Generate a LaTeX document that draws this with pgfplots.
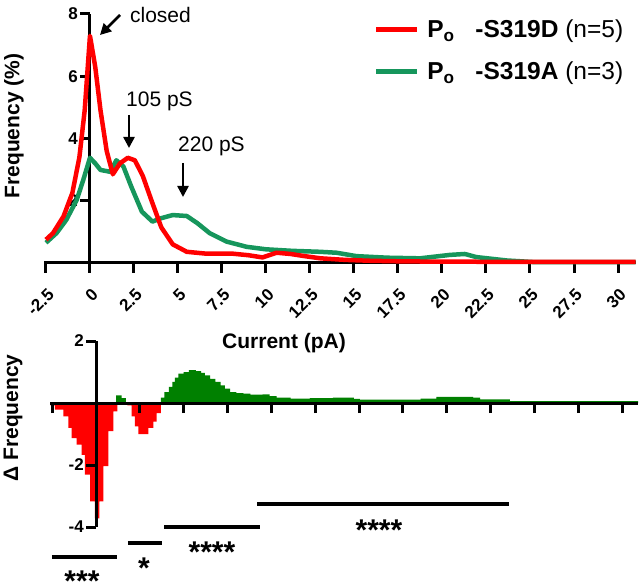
\documentclass[border=0pt]{standalone}
\usepackage{fontspec}
\setmainfont{Liberation Sans}
\usepackage{pgfplots}
\pgfplotsset{compat=1.18}
\usetikzlibrary{arrows.meta}
\definecolor{myred}{RGB}{255,0,0}
\definecolor{mygreen}{RGB}{22,150,92}
\definecolor{bargreen}{RGB}{0,128,0}
\begin{document}
\begin{tikzpicture}
\path[use as bounding box] (0pt,0pt) rectangle (641pt,582pt);
% ---------------- top panel ----------------
\begin{axis}[
  at={(44.2pt,319pt)}, anchor=south west,
  scale only axis, width=591.4pt, height=249pt,
  xmin=-2.6, xmax=31, ymin=0, ymax=8,
  clip=false,
  axis x line=bottom, axis y line=middle,
  axis line style={-, line width=3pt},
  tick align=outside, major tick length=10pt,
  tick style={line width=3pt, black},
  xtick={-2.5,0,2.5,5,7.5,10,12.5,15,17.5,20,22.5,25,27.5,30},
  xticklabels={-2.5,0,2.5,5,7.5,10,12.5,15,17.5,20,22.5,25,27.5,30},
  ytick={2,4,6,8}, yticklabels={2,4,6,8},
  tick label style={font=\fontsize{17}{20}\selectfont\bfseries},
  xticklabel style={inner sep=0pt, xshift=5pt, yshift=-19pt, rotate=45, anchor=east},
  yticklabel style={inner sep=2pt},
  every axis x label/.style={at={(axis description cs:0.4055,-0.321)}, anchor=center},
  every axis y label/.style={at={(axis description cs:-0.051,0.55)}, rotate=90, anchor=center},
  xlabel={Current (pA)}, ylabel={Frequency (\%)},
  label style={font=\fontsize{21}{25}\selectfont\bfseries},
  reverse legend,
  legend cell align=left,
  legend image code/.code={\draw[#1, line width=4.5pt] (0pt,0pt) -- (41pt,0pt);},
  legend style={at={(axis description cs:0.557,0.99)}, anchor=north west, draw=none, fill=none,
    font=\fontsize{24.5}{28}\selectfont, row sep=17pt, inner sep=0pt,
    nodes={inner sep=3pt}},
]
\addplot[color=mygreen, line width=4.5pt, line join=round] coordinates {
(-2.5,0.65)(-1.9,0.96)(-1.35,1.38)(-0.75,2.03)(-0.38,2.67)(0,3.38)(0.3,3.2)(0.6,2.99)(1.15,2.93)(1.5,3.3)(1.9,3.1)(2.35,2.45)(2.95,1.65)(3.55,1.33)(4.05,1.44)(4.7,1.54)(5.5,1.51)(6.1,1.28)(6.8,0.96)(7.75,0.69)(8.9,0.52)(10.0,0.44)(11.5,0.39)(13.05,0.36)(14.0,0.33)(15.15,0.22)(16.9,0.17)(18.75,0.15)(20.45,0.26)(21.3,0.29)(21.95,0.19)(23.7,0.08)(25.2,0.03)(31,0.03)};
\addlegendentry{\hspace{5pt}\textbf{P\textsubscript{o}\hspace{0.85em}-S319A} (n=3)}
\addplot[color=myred, line width=4.5pt, line join=round] coordinates {
(-2.5,0.75)(-2.1,0.96)(-1.5,1.5)(-1.0,2.25)(-0.6,3.4)(-0.3,4.9)(0,7.3)(0.3,6.3)(0.6,4.9)(0.95,3.6)(1.3,2.85)(1.7,3.2)(2.15,3.38)(2.55,3.3)(3.0,2.8)(3.5,2.0)(4.05,1.15)(4.7,0.6)(5.5,0.36)(6.6,0.3)(8.1,0.3)(9.0,0.25)(9.8,0.18)(10.6,0.33)(11.4,0.29)(12.2,0.22)(13.1,0.15)(14.5,0.1)(16,0.07)(18,0.05)(22,0.04)(26,0.04)(31,0.04)};
\addlegendentry{\hspace{5pt}\textbf{P\textsubscript{o}\hspace{0.85em}-S319D} (n=5)}
\end{axis}
% ---------------- bottom panel ----------------
\begin{axis}[
  at={(50.4pt,55pt)}, anchor=south west,
  scale only axis, width=587.6pt, height=186pt,
  xmin=-2.6, xmax=30.9, ymin=-4, ymax=2,
  clip=false, axis on top,
  axis lines=middle, axis line style={-, line width=3pt},
  tick align=outside, major tick length=10pt,
  tick style={line width=3pt, black},
  xtick={-2.5,0,2.5,5,7.5,10,12.5,15,17.5,20,22.5,25,27.5,30},
  xticklabels={},
  ytick={-4,-2,2}, yticklabels={-4,-2,2},
  tick label style={font=\fontsize{17}{20}\selectfont\bfseries},
  yticklabel style={inner sep=2pt},
  every axis y label/.style={at={(axis description cs:-0.0636,0.586)}, rotate=90, anchor=center},
  ylabel={Δ Frequency},
  label style={font=\fontsize{21}{25}\selectfont\bfseries},
]
\addplot[const plot, fill=myred, draw=none] coordinates {
(-2.6,-0.08)(-2.34,-0.21)(-1.86,-0.43)(-1.58,-0.8)(-1.39,-1.13)(-1.1,-1.34)(-0.82,-1.67)(-0.63,-2.31)(-0.34,-3.17)(-0.06,-3.72)(0.19,-3.17)(0.42,-2.04)(0.7,-0.91)(0.99,-0.27)(1.22,0)(1.79,-0.08)(2.03,-0.43)(2.22,-0.75)(2.41,-1.0)(2.98,-0.8)(3.27,-0.6)(3.46,-0.33)(3.7,0)} \closedcycle;
\addplot[const plot, fill=bargreen, draw=none] coordinates {
(1.14,0.25)(1.46,0.16)(1.71,0)(3.7,0.17)(3.9,0.35)(4.15,0.52)(4.35,0.68)(4.5,0.82)(4.7,0.95)(5.0,1.0)(5.3,1.06)(5.7,1.03)(6.0,0.97)(6.2,0.89)(6.5,0.78)(6.8,0.68)(7.1,0.57)(7.35,0.46)(7.65,0.35)(8.0,0.32)(8.4,0.3)(8.8,0.27)(9.5,0.28)(9.9,0.22)(10.3,0.17)(11.1,0.14)(12.2,0.16)(13.5,0.17)(14.7,0.13)(15.05,0.11)(18.5,0.14)(19.4,0.2)(21.5,0.17)(21.9,0.12)(23.6,0.06)(30.9,0.06)} \closedcycle;
% significance bars
\draw[line width=3.5pt] (axis cs:-2.51,-4.97) -- (axis cs:1.2,-4.97);
\draw[line width=3.5pt] (axis cs:1.82,-4.52) -- (axis cs:3.76,-4.52);
\draw[line width=3.5pt] (axis cs:3.88,-4.0) -- (axis cs:9.35,-4.0);
\draw[line width=3.5pt] (axis cs:9.18,-3.26) -- (axis cs:23.55,-3.26);
\node[anchor=north, inner sep=0pt, font=\fontsize{30}{30}\selectfont\bfseries] at (axis cs:-0.8,-5.42) {***};
\node[anchor=north, inner sep=0pt, font=\fontsize{30}{30}\selectfont\bfseries] at (axis cs:2.74,-5.0) {*};
\node[anchor=north, inner sep=0pt, font=\fontsize{30}{30}\selectfont\bfseries] at (axis cs:6.61,-4.48) {****};
\node[anchor=north, inner sep=0pt, font=\fontsize{30}{30}\selectfont\bfseries] at (axis cs:16.13,-3.77) {****};
\end{axis}
% ---------------- annotations ----------------
\node[font=\fontsize{21}{25}\selectfont] at (160.5pt,567pt) {closed};
\draw[-{Triangle[length=11pt,width=11pt]}, line width=2.5pt] (120pt,567pt) -- (100pt,547pt);
\node[font=\fontsize{21}{25}\selectfont] at (159.5pt,481pt) {105 pS};
\draw[-{Triangle[length=11pt,width=11pt]}, line width=2.5pt] (129pt,467pt) -- (129pt,434pt);
\node[font=\fontsize{21}{25}\selectfont] at (211.5pt,436pt) {220 pS};
\draw[-{Triangle[length=11pt,width=11pt]}, line width=2.5pt] (183pt,419pt) -- (183pt,385pt);
\end{tikzpicture}
\end{document}
